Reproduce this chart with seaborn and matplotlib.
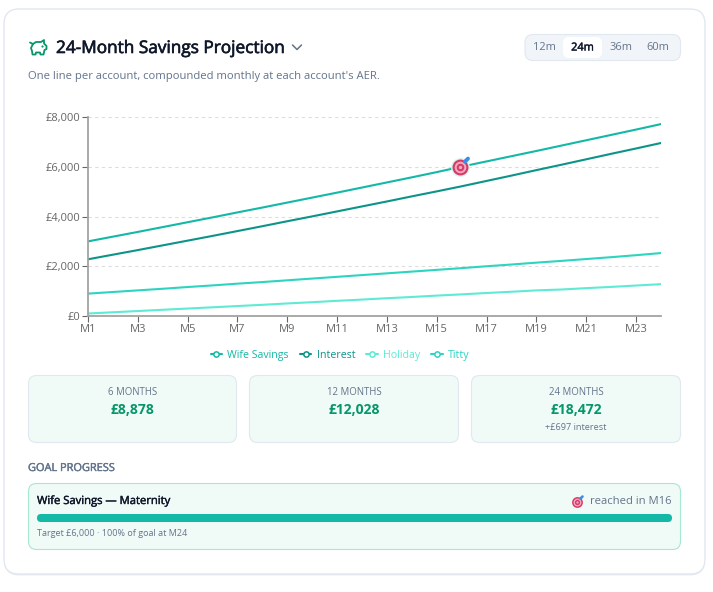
import matplotlib
matplotlib.use('Agg')
import matplotlib.patheffects as pe
import matplotlib.pyplot as plt
import pandas as pd
import seaborn as sns
from matplotlib.lines import Line2D
from matplotlib.patches import FancyBboxPatch

# Chart data
months = ['M' + str(i) for i in range(1, 25)]
wife_savings = [3000, 3190, 3380, 3575, 3770, 3965, 4165, 4360, 4560, 4760, 4960, 5165,
                5370, 5575, 5785, 6005, 6215, 6425, 6635, 6850, 7065, 7280, 7495, 7715]
interest = [2280, 2465, 2650, 2840, 3030, 3220, 3415, 3610, 3810, 4005, 4205, 4405,
            4605, 4810, 5010, 5215, 5430, 5645, 5865, 6080, 6300, 6520, 6735, 6955]
holiday = [100, 150, 200, 250, 300, 350, 400, 450, 505, 555, 610, 660,
           715, 765, 820, 870, 925, 975, 1030, 1065, 1120, 1170, 1225, 1280]
titty = [900, 965, 1030, 1095, 1165, 1230, 1300, 1365, 1435, 1505, 1575, 1645,
         1715, 1785, 1855, 1925, 2000, 2070, 2145, 2215, 2290, 2365, 2445, 2530]
accounts = ['Wife Savings', 'Interest', 'Holiday', 'Titty']
colors = ['#14b8a6', '#0d9488', '#5eead4', '#2dd4bf']
y_ticks = [0, 2000, 4000, 6000, 8000]
range_labels = ['12m', '24m', '36m', '60m']
stat_labels = ['6 MONTHS', '12 MONTHS', '24 MONTHS']
stat_values = ['£8,878', '£12,028', '£18,472']

sns.set_theme(style='white')
plt.rcParams['font.family'] = ['Open Sans', 'DejaVu Sans']

W, H = 713, 592
fig = plt.figure(figsize=(W / 100, H / 100), dpi=100, facecolor='white')

# Overlay in pixel coordinates for the card furniture
ui = fig.add_axes([0, 0, 1, 1], zorder=0)
ui.set_xlim(0, W)
ui.set_ylim(H, 0)
ui.axis('off')


def box(x0, y0, x1, y1, r, fc, ec, lw=0.8, **kw):
    p = FancyBboxPatch((x0, y0), x1 - x0, y1 - y0, boxstyle=f'round,pad=0,rounding_size={r}',
                       fc=fc, ec=ec, lw=lw, **kw)
    ui.add_patch(p)


def semi(t, w=0.3):
    # Open Sans only has regular and bold here, thicken the regular a little
    t.set_path_effects([pe.withStroke(linewidth=w, foreground=t.get_color())])


def target(ax, x, y, scale=1.0):
    # bullseye emoji
    rings = [(132, '#d63a66'), (70, '#f3a9c0'), (30, '#d63a66'), (6, '#f3a9c0')]
    if scale == 1.0:
        rings = [(185, '#d5f5ee')] + rings
    for s, c in rings:
        ax.scatter([x], [y], s=s * scale ** 2, c=c, linewidths=0, zorder=6, clip_on=False)
    ax.annotate('', xy=(x, y), xytext=(5.8 * scale, 5.8 * scale), textcoords='offset points',
                arrowprops=dict(arrowstyle='-', color='#3b8ee8', lw=2.8 * scale, shrinkA=0,
                                shrinkB=5 * scale), zorder=7, annotation_clip=False)


# Card with soft shadow
box(4, 10.5, 705, 575.5, 15, '#dfe4ec', 'none', alpha=0.7)
box(4, 9, 705, 574, 15, 'white', '#e2e8f0', lw=1.0)

# Piggy bank icon
green = '#059669'
pig_x = [30, 33, 36, 41, 44, 44, 46.5, 46.5, 44.5, 43.5, 40.5, 40, 36, 35.5, 32.5, 32, 31, 33]
pig_y = [42.5, 44, 42, 42, 40, 43.5, 46, 49, 50, 54.5, 54.5, 52.5, 52.5, 54.5, 54.5, 51, 48, 44]
ui.plot(pig_x, pig_y, color=green, lw=1.3, solid_joinstyle='round')
ui.scatter([42], [45.7], s=2.5, c=green, linewidths=0)

semi(ui.text(56, 49, '24-Month Savings Projection', fontsize=12.4, color='#0f172a', va='center', ha='left'), 0.45)
ui.plot([292.5, 297, 301.5], [45, 49.5, 45], color='#64748b', lw=1.1)
ui.text(28, 76.5, "One line per account, compounded monthly at each account's AER.", fontsize=8.15,
        color='#64748b', va='center', ha='left')

# Range picker
box(525, 34.5, 680.5, 60.5, 8, '#f1f5f9', '#e2e8f0')
box(563, 37, 602, 58, 6, 'white', 'none')
for cx, lab in zip([544.5, 582.5, 620.5, 658], range_labels):
    active = lab == '24m'
    t = ui.text(cx, 48, lab, fontsize=7.9, color='#0f172a' if active else '#64748b', ha='center', va='center')
    if active:
        semi(t)

# Stat cards
for (x0, x1), lab, val in zip([(28.5, 236.5), (249.5, 458.5), (471.5, 680.5)], stat_labels, stat_values):
    box(x0, 375.5, x1, 442.5, 8, '#f0faf7', '#e2e8f0')
    cx = (x0 + x1) / 2
    ui.text(cx, 392.5, lab, fontsize=6.9, color='#64748b', ha='center', va='center')
    ui.text(cx, 410, val, fontsize=10, color=green, fontweight='bold', ha='center', va='center')
ui.text(576, 427, '+£697 interest', fontsize=6.6, color='#64748b', ha='center', va='center')

# Goal progress
semi(ui.text(28, 468.5, 'GOAL PROGRESS', fontsize=7.9, color='#64748b', va='center', ha='left'))
box(28.5, 483.5, 680.5, 549.5, 8, '#f0faf7', '#a7e8d0')
semi(ui.text(37, 501.5, 'Wife Savings — Maternity', fontsize=8.1, color='#0f172a', va='center', ha='left'))
box(37, 514, 672, 522, 4, '#14b8a6', 'none')
ui.text(37, 534, 'Target £6,000 · 100% of goal at M24', fontsize=6.5, color='#64748b', va='center', ha='left')
ui.text(671.5, 501.5, 'reached in M16', fontsize=8.1, color='#64748b', va='center', ha='right')
target(ui, 577, 502, scale=0.68)

# Line chart
ax = fig.add_axes([88 / W, 1 - 316 / H, (661 - 88) / W, (316 - 117) / H], zorder=1)
ax.patch.set_alpha(0)

df = pd.DataFrame({'month': months * 4,
                   'value': wife_savings + interest + holiday + titty,
                   'account': sum([[a] * len(months) for a in accounts], [])})
sns.lineplot(data=df, x='month', y='value', hue='account', hue_order=accounts,
             palette=colors, sort=False, legend=False, linewidth=1.5, ax=ax)

ax.set_xlim(0, 23)
ax.set_ylim(0, 8000)
ax.set_xticks(range(0, 24, 2))
ax.set_xticklabels(months[::2])
ax.set_yticks(y_ticks)
ax.set_yticklabels([f'£{v:,}' for v in y_ticks])
ax.set_xlabel('')
ax.set_ylabel('')
ax.grid(axis='y', color='#dddddd', linestyle=(0, (3, 3)), linewidth=0.8)
ax.set_axisbelow(True)
sns.despine(ax=ax)
for side in ['left', 'bottom']:
    ax.spines[side].set_color('#a3a3a3')
    ax.spines[side].set_linewidth(1.3)
ax.tick_params(axis='both', bottom=True, left=True, length=4, width=0.8, color='#666666',
               labelcolor='#666666', labelsize=8, pad=1.5)

# Goal reached marker
target(ax, months.index('M16') - 0.07, wife_savings[months.index('M16')])

handles = [Line2D([], [], color=c, lw=1.5, marker='o', markersize=3.8, markerfacecolor='white',
                  markeredgewidth=1.1) for c in colors]
leg = fig.legend(handles, accounts, loc='center', bbox_to_anchor=(340 / W, 1 - 355.5 / H), ncol=4,
                 frameon=False, fontsize=7.65, handlelength=1.1, handletextpad=0.48, columnspacing=1.03,
                 borderpad=0, labelcolor=colors)

fig.savefig('out.png', dpi=100)
